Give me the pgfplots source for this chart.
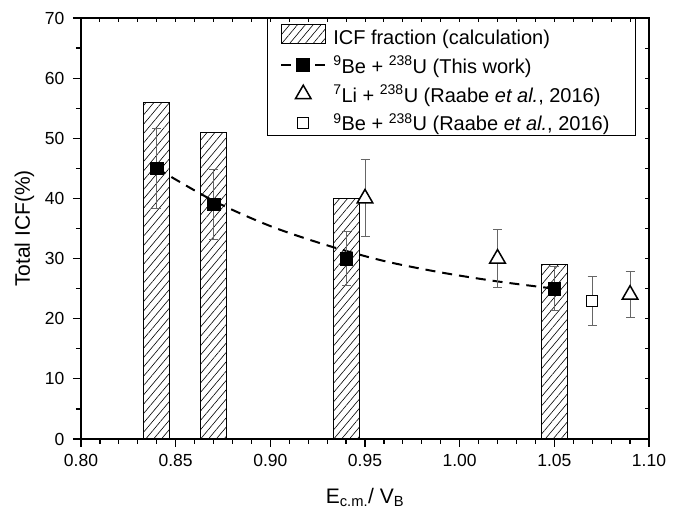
\documentclass[border=0pt]{standalone}
\usepackage{pgfplots}
\pgfplotsset{compat=1.18}
\usepackage{fontspec}
\setmainfont{Liberation Sans}
\usetikzlibrary{patterns.meta}

\pgfplotsset{
  wide line legend/.style={legend image code/.code={%
    \draw[mark repeat=2,mark phase=2,##1] plot coordinates {(0pt,0pt) (22pt,0pt) (44pt,0pt)};}},
  wide area legend/.style={legend image code/.code={%
    \draw[##1] (0pt,-9.5pt) rectangle (44pt,9.5pt);}},
  mid mark legend/.style={legend image code/.code={%
    \draw[##1] plot coordinates {(22pt,0pt)};}},
  hatch/.style={pattern={Lines[angle=50,distance=6pt,line width=0.6pt]}},
  errstyle/.style={error bars/.cd, y dir=both, y explicit,
    error bar style={line width=0.9pt, black!60},
    error mark options={rotate=90, mark size=4.5pt, line width=0.9pt, black!60}},
}

% calculated ICF fraction
\pgfplotstableread{
x     y
0.84  56
0.87  51
0.94  40
1.05  29
}\icfcalc
% 9Be + 238U, this work
\pgfplotstableread{
x     y    e
0.84  45   6.7
0.87  39   5.9
0.94  30   4.5
1.05  25   3.7
}\bethis
% 7Li + 238U, Raabe et al. 2016
\pgfplotstableread{
x     y    e
0.95  40   6.4
1.02  30   4.8
1.09  24   3.8
}\liraabe
% 9Be + 238U, Raabe et al. 2016
\pgfplotstableread{
x     y    e
1.07  23   4.1
}\beraabe
% systematic trend of the present data
\pgfplotstableread{
x      y
0.840  45.0
0.870  39.6
0.900  35.4
0.930  32.2
0.960  29.6
0.990  27.7
1.020  26.2
1.050  25.0
}\betrend

\begin{document}
\begin{tikzpicture}
\begin{axis}[
  scale only axis, width=568pt, height=421pt,
  xmin=0.80, xmax=1.10, ymin=0, ymax=70,
  xtick={0.80,0.85,0.90,0.95,1.00,1.05,1.10},
  ytick={0,10,20,30,40,50,60,70},
  minor x tick num=4, minor y tick num=1,
  xtick pos=bottom, ytick pos=left,
  tick align=outside,
  major tick length=8pt, minor tick length=5pt,
  every tick/.style={black, line width=1.2pt},
  axis line style={line width=1.5pt},
  tick label style={font=\fontsize{17.5}{20}\selectfont},
  xticklabel style={yshift=-4pt, /pgf/number format/.cd, fixed, fixed zerofill, precision=2, assume math mode=true},
  yticklabel style={xshift=-5pt, /pgf/number format/.cd, fixed, precision=0, assume math mode=true},
  xlabel={E\textsubscript{c.m.}/ V\textsubscript{B}},
  ylabel={Total ICF(\%)},
  xlabel style={font=\fontsize{21}{24}\selectfont, yshift=-14pt},
  ylabel style={font=\fontsize{21}{24}\selectfont},
  ylabel shift=4pt,
  legend style={at={(rel axis cs:0.977,1)}, anchor=north east, draw=black,
    line width=1pt, nodes={font=\fontsize{20}{24}\selectfont},
    inner xsep=13pt, inner ysep=1pt, row sep=6pt,
    /tikz/every odd column/.append style={column sep=5pt}},
  legend cell align=left,
]
\coordinate (ll) at (rel axis cs:0,0);
\coordinate (ur) at (rel axis cs:1,1);

\addlegendimage{wide area legend, draw=black, line width=1pt, hatch}
\addlegendentry{\rule{0pt}{23pt}ICF fraction (calculation)}
\addlegendimage{wide line legend, black, line width=2pt, dash pattern=on 10pt off 7pt,
  mark=square*, mark size=6pt, mark options={solid}}
\addlegendentry{\textsuperscript{9}Be + \textsuperscript{238}U (This work)}
\addlegendimage{mid mark legend, black, line width=1.5pt, mark=triangle*, mark size=9pt,
  mark options={fill=white}}
\addlegendentry{\textsuperscript{7}Li + \textsuperscript{238}U (Raabe \textit{et al.}, 2016)}
\addlegendimage{mid mark legend, black, line width=1.3pt, mark=square*, mark size=5.5pt,
  mark options={fill=white}}
\addlegendentry{\textsuperscript{9}Be + \textsuperscript{238}U (Raabe \textit{et al.}, 2016)\hspace*{11pt}}

\addplot[forget plot, ybar, bar width=0.0138, bar shift=0pt, draw=black, line width=1pt, hatch]
  table[x=x, y=y] {\icfcalc};

\addplot[forget plot, black, line width=2pt, dash pattern=on 10pt off 7pt, smooth]
  table[x=x, y=y] {\betrend};

\addplot[forget plot, only marks, black, mark=square*, mark size=6.2pt, errstyle]
  table[x=x, y=y, y error=e] {\bethis};

\addplot[forget plot, only marks, black, mark=triangle*, mark size=9pt, line width=1.5pt,
  mark options={fill=white}, errstyle]
  table[x=x, y=y, y error=e] {\liraabe};

\addplot[forget plot, only marks, black, mark=square*, mark size=5.5pt, line width=1.3pt,
  mark options={fill=white}, errstyle]
  table[x=x, y=y, y error=e] {\beraabe};
\end{axis}

% inward ticks on the top and right edges
\begin{axis}[
  scale only axis, width=568pt, height=421pt,
  xmin=0.80, xmax=1.10, ymin=0, ymax=70,
  xtick={0.80,0.85,0.90,0.95,1.00,1.05,1.10},
  ytick={0,10,20,30,40,50,60,70},
  minor x tick num=4, minor y tick num=1,
  xtick pos=top, ytick pos=right,
  tick align=inside,
  major tick length=4pt, minor tick length=4pt,
  every tick/.style={black, line width=1pt},
  axis line style={draw=none},
  xticklabels={}, yticklabels={},
]
\end{axis}

\path ([shift={(-81pt,-71pt)}]ll) rectangle ([shift={(30pt,18pt)}]ur);
\end{tikzpicture}
\end{document}
